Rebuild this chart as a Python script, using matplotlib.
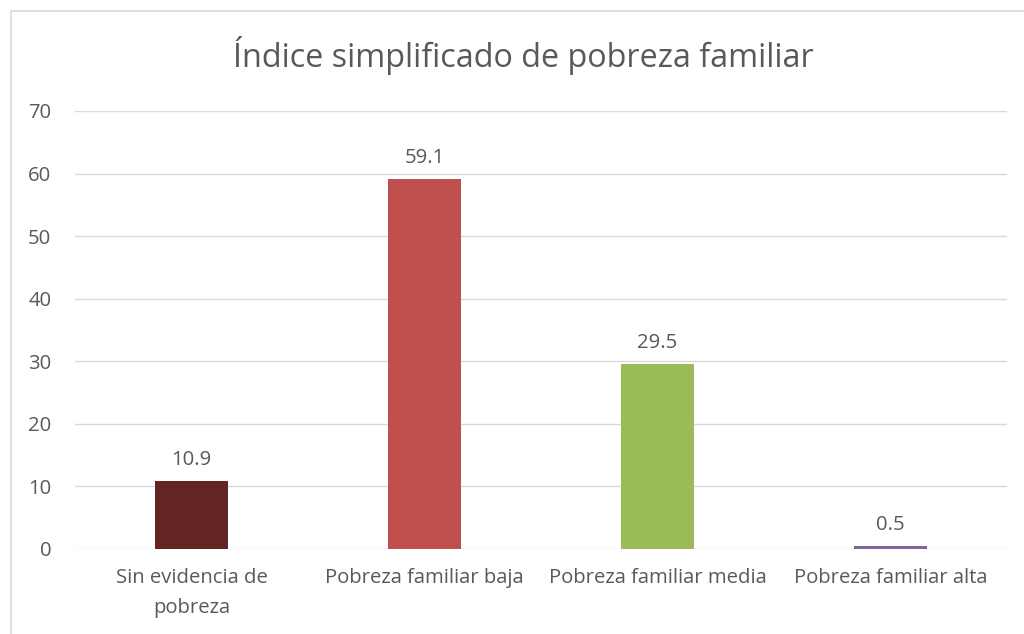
import matplotlib
matplotlib.use("Agg")
import matplotlib.pyplot as plt
from matplotlib.patches import Rectangle

categories = ["Sin evidencia de\npobreza", "Pobreza familiar baja",
              "Pobreza familiar media", "Pobreza familiar alta"]
values = [10.9, 59.1, 29.5, 0.5]
colors = ["#632523", "#C0504D", "#9BBB59", "#8064A2"]

plt.rcParams["font.family"] = ["Open Sans", "DejaVu Sans"]
TXT = "#595959"
FS = 14.6

fig = plt.figure(figsize=(10.24, 6.34), dpi=100)
fig.patch.set_facecolor("white")

# chart border (runs off the right/bottom edge like the screenshot)
fig.patches.append(Rectangle((11 / 1024, -0.05), 1.2, (634 - 11) / 634 + 0.05,
                             transform=fig.transFigure, fill=False,
                             edgecolor="#D9D9D9", lw=1.2))

ax = fig.add_axes([75 / 1024, 85 / 634, 932 / 1024, 438 / 634])
x = range(len(values))
bars = ax.bar(x, values, width=0.31, color=colors, zorder=3)

ax.set_xlim(-0.5, 3.5)
ax.set_ylim(0, 70)
ax.set_yticks(range(0, 71, 10))
ax.set_xticks(list(x))
ax.set_xticklabels(categories, fontsize=FS, color=TXT, linespacing=1.65)
ax.tick_params(axis="y", labelsize=FS, labelcolor=TXT, length=0, pad=17)
ax.tick_params(axis="x", length=0, pad=14)
ax.grid(axis="y", color="#D9D9D9", lw=1.0, zorder=0)
for s in ax.spines.values():
    s.set_visible(False)

for b, v in zip(bars, values):
    ax.annotate(f"{v}", (b.get_x() + b.get_width() / 2, v),
                xytext=(0, 8), textcoords="offset points",
                ha="center", va="bottom", fontsize=FS, color=TXT)

fig.text(0.511, 0.913, "Índice simplificado de pobreza familiar",
         ha="center", va="center", fontsize=23.3, color=TXT)

fig.savefig("out.png", dpi=100, facecolor="white")
